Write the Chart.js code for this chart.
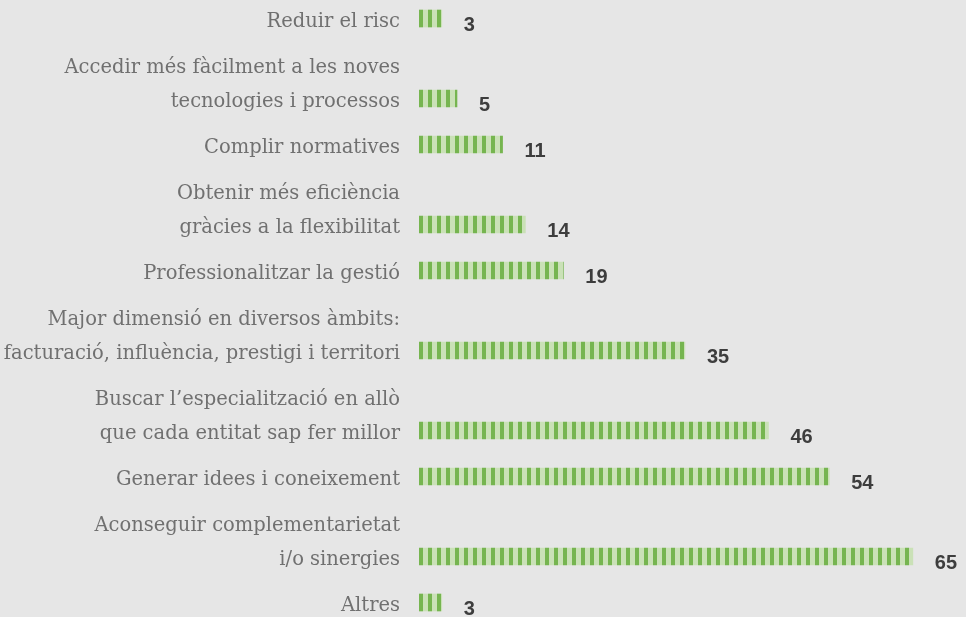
<!DOCTYPE html>
<html>
<head>
<meta charset="utf-8">
<script src="https://cdn.jsdelivr.net/npm/chart.js@4/dist/chart.umd.min.js"></script>
<style>
html,body{margin:0;padding:0;background:#e6e6e6;}
#wrap{width:966px;height:617px;position:relative;}
</style>
</head>
<body>
<div id="wrap"><canvas id="c" width="966" height="617"></canvas></div>
<script>
const categories = [
  ["Reduir el risc"],
  ["Accedir més fàcilment a les noves", "tecnologies i processos"],
  ["Complir normatives"],
  ["Obtenir més eficiència", "gràcies a la flexibilitat"],
  ["Professionalitzar la gestió"],
  ["Major dimensió en diversos àmbits:", "facturació, influència, prestigi i territori"],
  ["Buscar l’especialització en allò", "que cada entitat sap fer millor"],
  ["Generar idees i coneixement"],
  ["Aconseguir complementarietat", "i/o sinergies"],
  ["Altres"]
];
const values = [3, 5, 11, 14, 19, 35, 46, 54, 65, 3];

// layout: row positions derived from number of label lines
const EXTRA_LINE = 34 / 46;
const rowPos = [];
let acc = 0;
categories.forEach((c, i) => {
  if (i > 0) acc += 1 + EXTRA_LINE * (c.length - 1);
  rowPos.push(acc);
});
const data = values.map((v, i) => ({ x: v, y: rowPos[i] }));

const DARK = '#76b550', LIGHT = '#cae1b7';
const LEFT = 419;
function makePattern(ctx) {
  const p = document.createElement('canvas');
  p.width = 9; p.height = 4;
  const pc = p.getContext('2d');
  pc.fillStyle = LIGHT; pc.fillRect(0, 0, 9, 4);
  pc.fillStyle = DARK; pc.fillRect(0, 0, 4, 4);
  const pat = ctx.createPattern(p, 'repeat');
  pat.setTransform(new DOMMatrix().translate(LEFT, 0));
  return pat;
}

const labelsPlugin = {
  id: 'labelsPlugin',
  afterDatasetsDraw(chart) {
    const ctx = chart.ctx;
    const ys = chart.scales.y, xs = chart.scales.x;
    ctx.save();
    // category labels
    ctx.font = '300 19.5px "DejaVu Serif"';
    ctx.fillStyle = '#707070';
    ctx.textAlign = 'right';
    ctx.textBaseline = 'alphabetic';
    categories.forEach((lines, i) => {
      const yc = ys.getPixelForValue(rowPos[i]);
      lines.forEach((ln, j) => {
        const y = yc - (lines.length - 1 - j) * 34;
        ctx.fillText(ln, LEFT - 19, y + 8);
      });
    });
    // value labels
    ctx.font = 'bold 20px "Liberation Sans"';
    ctx.fillStyle = '#3d3d3d';
    ctx.textAlign = 'left';
    values.forEach((v, i) => {
      const x = xs.getPixelForValue(v);
      const y = ys.getPixelForValue(rowPos[i]);
      ctx.fillText(String(v), x + 22, y + 12);
    });
    ctx.restore();
  }
};

const ctx = document.getElementById('c').getContext('2d');
new Chart(ctx, {
  type: 'bar',
  data: {
    datasets: [{
      data: data,
      backgroundColor: makePattern(ctx),
      borderWidth: 0,
      barThickness: 17
    }]
  },
  options: {
    indexAxis: 'y',
    responsive: false,
    animation: false,
    layout: { padding: { left: LEFT, right: 0, top: 0, bottom: 0 } },
    plugins: { legend: { display: false }, tooltip: { enabled: false } },
    scales: {
      x: { type: 'linear', min: 0, max: 72, display: false },
      y: { type: 'linear', offset: false, min: -18.5 / 46, max: -18.5 / 46 + 617 / 46, reverse: true, display: false }
    }
  },
  plugins: [labelsPlugin]
});
</script>
</body>
</html>
